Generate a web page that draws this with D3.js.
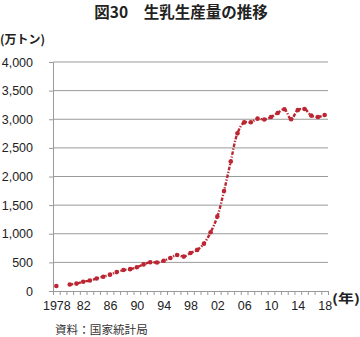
<!DOCTYPE html>
<html><head><meta charset="utf-8">
<script src="https://cdn.jsdelivr.net/npm/d3@7"></script>
<style>
html,body{margin:0;padding:0;background:#fff;}
svg{display:block;}
</style></head>
<body>
<svg id="c" width="360" height="337"></svg>
<script>
// Data (万トン), 1979 not shown in the source chart
const years = [1978,1980,1981,1982,1983,1984,1985,1986,1987,1988,1989,1990,1991,1992,1993,1994,1995,1996,1997,1998,1999,2000,2001,2002,2003,2004,2005,2006,2007,2008,2009,2010,2011,2012,2013,2014,2015,2016,2017,2018];
const production = [88.3,114.1,129.1,161.8,184.5,218.6,249.9,285.3,330.2,366.0,381.3,415.7,464.6,503.1,498.6,528.8,576.4,629.4,601.1,662.9,717.6,827.4,1025.5,1299.8,1746.3,2260.6,2753.4,2944.6,2947.1,3010.6,2995.1,3038.9,3109.9,3174.9,3000.8,3159.9,3179.8,3064.0,3038.6,3074.6];
const yTicks = [0,500,1000,1500,2000,2500,3000,3500,4000];
const xLabelYears = [1978,1982,1986,1990,1994,1998,2002,2006,2010,2014,2018];

const svg = d3.select("#c");
const L = 53, R = 328, T = 62, B = 291;
const x = d3.scaleLinear().domain([1977.5, 2018.5]).range([L, R]);
const y = d3.scaleLinear().domain([0, 4000]).range([B, T]);
const red = "#bb2633";
const latin = "'Liberation Sans', Arial, 'Noto Sans CJK JP', sans-serif";
const cjk = "'Noto Sans CJK JP', sans-serif";

// Title
svg.append("text").attr("x", 181).attr("y", 18).attr("text-anchor", "middle")
  .attr("font-family", cjk).attr("font-weight", "bold").attr("font-size", 15.5).attr("fill", "#222")
  .text("図30　生乳生産量の推移");

// Unit label
svg.append("text").attr("x", 0).attr("y", 44)
  .attr("font-family", cjk).attr("font-weight", "bold").attr("font-size", 12).attr("fill", "#222")
  .attr("textLength", 45).attr("lengthAdjust", "spacingAndGlyphs")
  .text("(万トン)");

// Gridlines
svg.append("g").selectAll("line").data(yTicks.filter(d => d > 0)).join("line")
  .attr("x1", L).attr("x2", R).attr("y1", d => y(d)).attr("y2", d => y(d))
  .attr("stroke", "#9a9a9a").attr("stroke-width", 1);

// Y axis
const yAxis = svg.append("g").attr("transform", `translate(${L},0)`)
  .call(d3.axisLeft(y).tickValues(yTicks).tickSize(4).tickSizeOuter(0).tickPadding(16)
    .tickFormat(d3.format(",")));
yAxis.select(".domain").attr("stroke", "#9a9a9a");
yAxis.selectAll(".tick line").attr("stroke", "#9a9a9a");
yAxis.selectAll("text").attr("font-family", latin).attr("font-size", 12.5).attr("fill", "#222");

// X axis: ticks at year boundaries
const bounds = d3.range(0, 42).map(k => 1977.5 + k);
const xAxis = svg.append("g").attr("transform", `translate(0,${B})`)
  .call(d3.axisBottom(x).tickValues(bounds).tickSize(4).tickSizeOuter(0).tickFormat(""));
xAxis.select(".domain").attr("stroke", "#9a9a9a");
xAxis.selectAll(".tick line").attr("stroke", "#9a9a9a");

// X labels
const xl = svg.append("g").attr("transform", `translate(0,${B})`)
  .call(d3.axisBottom(x).tickValues(xLabelYears).tickSize(0).tickPadding(10)
    .tickFormat(d => d === 1978 ? "1978" : String(d).slice(2)));
xl.select(".domain").remove();
xl.selectAll("text").attr("font-family", latin).attr("font-size", 12.5).attr("fill", "#222");

// (年)
svg.append("text").attr("x", 332).attr("y", 303)
  .attr("font-family", cjk).attr("font-weight", "bold").attr("font-size", 12.5).attr("fill", "#222")
  .attr("textLength", 28).attr("lengthAdjust", "spacingAndGlyphs")
  .text("(年)");

// Source
svg.append("text").attr("x", 55).attr("y", 334)
  .attr("font-family", cjk).attr("font-size", 11.6).attr("fill", "#333")
  .text("資料：国家統計局");

// Line (gap at 1979)
const pts = years.map((yr, i) => ({yr, v: production[i]}));
const seg1 = pts.filter(d => d.yr >= 1980);
const line = d3.line().x(d => x(d.yr)).y(d => y(d.v)).curve(d3.curveCatmullRom.alpha(0.5));
svg.append("path").datum(seg1).attr("d", line)
  .attr("fill", "none").attr("stroke", red).attr("stroke-width", 2.4)
  .attr("stroke-dasharray", "3.5,1.6,1.2,1.6");

// Markers
svg.append("g").selectAll("circle").data(pts).join("circle")
  .attr("cx", d => x(d.yr)).attr("cy", d => y(d.v)).attr("r", 2.3)
  .attr("fill", red);
</script>
</body></html>
